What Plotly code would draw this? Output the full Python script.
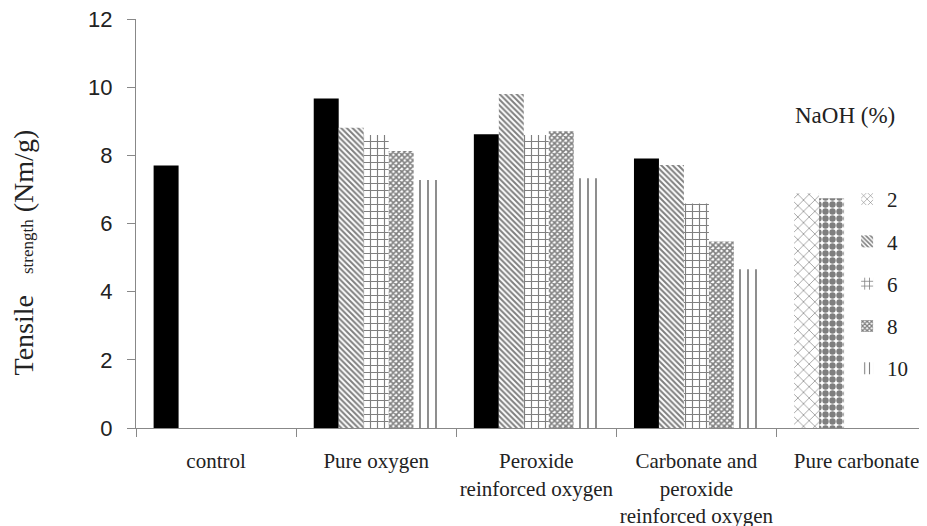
import plotly.graph_objects as go

categories = ["control", "Pure oxygen", "Peroxide<br>reinforced oxygen",
              "Carbonate and<br>peroxide<br>reinforced oxygen", "Pure carbonate"]
naoh_labels = ["2", "4", "6", "8", "10"]
s2 = [7.70, 9.67, 8.62, 7.91, 6.89]
s4 = [None, 8.81, 9.80, 7.72, 6.74]
s6 = [None, 8.60, 8.60, 6.59, None]
s8 = [None, 8.13, 8.71, 5.47, None]
s10 = [None, 7.28, 7.33, 4.66, None]
y_ticks = [0, 2, 4, 6, 8, 10, 12]

SERIF = "Liberation Serif, Times New Roman, serif"
SANS = "Liberation Sans, Arial, sans-serif"

fig = go.Figure()

def pat(shape, size, solidity):
    return dict(shape=shape, size=size, solidity=solidity, fgcolor="black", bgcolor="white", fillmode="overlay")

# series 2: black in first four groups, crosshatch in Pure carbonate
fig.add_trace(go.Bar(x=categories, y=s2, showlegend=False,
    marker=dict(color=["black"] * 4 + ["white"], line=dict(width=0),
                pattern=dict(shape=["", "", "", "", "x"], size=[8] * 5,
                             solidity=[0.22] * 5, fgcolor="black", fillmode="overlay"))))
# series 4: diagonal, diamonds in Pure carbonate
fig.add_trace(go.Bar(x=categories, y=s4, showlegend=False,
    marker=dict(color="white", line=dict(width=0),
                pattern=dict(shape=["\\", "\\", "\\", "\\", "."], size=[4, 4, 4, 4, 7],
                             solidity=[0.5, 0.5, 0.5, 0.5, 0.65], fgcolor="black", bgcolor="white",
                             fillmode="overlay"))))
fig.add_trace(go.Bar(x=categories, y=s6, showlegend=False,
    marker=dict(color="white", line=dict(width=0), pattern=pat("+", 7, 0.3))))
fig.add_trace(go.Bar(x=categories, y=s8, showlegend=False,
    marker=dict(color="white", line=dict(width=0), pattern=pat("x", 4, 0.65))))
fig.add_trace(go.Bar(x=categories, y=s10, showlegend=False,
    marker=dict(color="white", line=dict(width=0), pattern=pat("|", 8, 0.22))))

# legend-only entries on an invisible overlay axis
legend_pats = [pat("x", 6, 0.22), pat("\\", 4, 0.5), pat("+", 6, 0.3), pat("x", 4, 0.65), pat("|", 6, 0.22)]
for lab, p in zip(naoh_labels, legend_pats):
    fig.add_trace(go.Bar(x=[None], y=[None], name=lab, xaxis="x2", yaxis="y2",
                         legendgroup=lab,
                         marker=dict(color="white", line=dict(width=0), pattern=p)))

fig.update_layout(
    width=927, height=526,
    margin=dict(l=128, r=0, t=11, b=106),
    paper_bgcolor="white", plot_bgcolor="white",
    barmode="group", bargap=0.22, bargroupgap=0,
    showlegend=True,
    legend=dict(x=0.89, y=0.609, xanchor="left", yanchor="top",
                font=dict(family=SERIF, size=21, color="#222"),
                itemwidth=30, tracegroupgap=12, bgcolor="rgba(0,0,0,0)"),
    xaxis=dict(type="category", range=[-0.5, 4.49], showline=True, linecolor="#888", linewidth=1,
               ticks="outside", ticklen=8, tickcolor="#888", tickson="boundaries",
               automargin=False, ticklabelstandoff=14, tickangle=0,
               tickfont=dict(family=SERIF, size=21, color="#222"), showgrid=False),
    yaxis=dict(range=[0, 12.001], tickvals=y_ticks, showline=True, linecolor="#888", linewidth=1,
               ticks="outside", ticklen=8, tickcolor="#888", showgrid=False, zeroline=False,
               ticklabelstandoff=10, automargin=False, ticklabeloverflow="allow",
               tickfont=dict(family=SANS, size=22, color="#222")),
    xaxis2=dict(overlaying="x", visible=False),
    yaxis2=dict(overlaying="y", visible=False),
    annotations=[
        dict(text="Tensile&nbsp;&nbsp;&nbsp;<span style='font-size:17px'>strength</span>&nbsp;(Nm/g)",
             xref="paper", yref="paper", x=-0.141, y=0.43, xanchor="center", yanchor="middle",
             textangle=-90, showarrow=False, font=dict(family=SERIF, size=28, color="#222")),
        dict(text="NaOH (%)", xref="paper", yref="paper", x=0.887, y=0.765,
             xanchor="center", yanchor="middle", showarrow=False,
             font=dict(family=SERIF, size=23, color="#222")),
    ],
)

fig.write_html("out.html")
